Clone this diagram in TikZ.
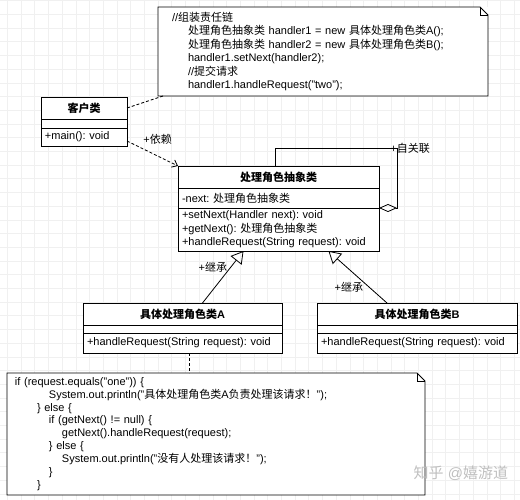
\documentclass[tikz,border=0pt]{standalone}
\usepackage{fontspec}
\setmainfont{Liberation Sans}
\newfontfamily\zhfont{Noto Sans CJK SC}
\newcommand{\zh}[1]{{\zhfont #1}}
\frenchspacing
\usetikzlibrary{arrows.meta}
\usetikzlibrary{positioning}

\begin{document}
\begin{tikzpicture}[x=1pt,y=-1pt,line width=0.8pt,
    font=\fontsize{11pt}{13.4pt}\selectfont,
    gridline/.style={line width=0.5pt,black!6},
    classhead/.style={draw,fill=white,anchor=north west,minimum width=#1,
      minimum height=22pt,inner sep=0pt,outer sep=0pt,
      font=\fontsize{11pt}{13.4pt}\selectfont\bfseries},
    classpart/.style={draw,fill=white,text width=#1,inner xsep=4pt,
      inner ysep=0pt,outer sep=0pt,align=left},
    notebox/.style={fill=white,anchor=north west,inner ysep=0pt,
      outer sep=0pt,align=left},
    noteline/.style={line width=0.8pt},
    depend/.style={dash pattern=on 3pt off 2pt,-{Straight Barb[length=5pt,width=8pt]}},
    inherit/.style={-{Triangle[open,length=12pt,width=14pt]}},
    aggregate/.style={-{Diamond[open,length=18pt,width=8pt]}},
    watermark/.style={text=black!25,font=\fontsize{15pt}{17pt}\selectfont}]
  \useasboundingbox (0,0) rectangle (520,500);
  % background grid
  \foreach \gx in {7.3,21.0,...,520} \draw[gridline] (\gx,0) -- (\gx,500);
  \foreach \gy in {0.6,14.3,...,500} \draw[gridline] (0,\gy) -- (520,\gy);

  % notes
  \node[notebox,inner xsep=14pt,text width=302pt,minimum height=89pt] (setupNote) at (158,7)
    {//\zh{组装责任链}\\
     \hspace*{16pt}\zh{处理角色抽象类} handler1 = new \zh{具体处理角色类}A();\\
     \hspace*{16pt}\zh{处理角色抽象类} handler2 = new \zh{具体处理角色类}B();\\
     \hspace*{16pt}handler1.setNext(handler2);\\
     \hspace*{16pt}//\zh{提交请求}\\
     \hspace*{16pt}handler1.handleRequest("two");};
  \draw[noteline] (setupNote.north west) -- ([xshift=-8pt]setupNote.north east)
    -- ([yshift=-8pt]setupNote.north east) -- (setupNote.south east)
    -- (setupNote.south west) -- cycle;
  \draw[noteline] ([xshift=-8pt]setupNote.north east) -- ([xshift=-8pt,yshift=-8pt]setupNote.north east)
    -- ([yshift=-8pt]setupNote.north east);

  \node[notebox,inner xsep=8pt,text width=402pt,minimum height=122pt,
    font=\fontsize{11pt}{12.9pt}\selectfont] (codeNote) at (7,373)
    {if (request.equals("one")) \{\\
     \hspace*{34pt}System.out.println("\zh{具体处理角色类}A\zh{负责处理该请求！}");\\
     \hspace*{22pt}\} else \{\\
     \hspace*{34pt}if (getNext() != null) \{\\
     \hspace*{47pt}getNext().handleRequest(request);\\
     \hspace*{34pt}\} else \{\\
     \hspace*{47pt}System.out.println("\zh{没有人处理该请求！}");\\
     \hspace*{34pt}\}\\
     \hspace*{22pt}\}};
  \draw[noteline] (codeNote.north west) -- ([xshift=-8pt]codeNote.north east)
    -- ([yshift=-8pt]codeNote.north east) -- (codeNote.south east)
    -- (codeNote.south west) -- cycle;
  \draw[noteline] ([xshift=-8pt]codeNote.north east) -- ([xshift=-8pt,yshift=-8pt]codeNote.north east)
    -- ([yshift=-8pt]codeNote.north east);
  \node[watermark,anchor=west] (mark) at (410,473) {\zh{知乎} @\zh{嬉游道}};

  % classes
  \node[classhead=86pt] (client) at (41,97) {\zh{客户类}};
  \node[classpart=78pt,minimum height=9pt,below=0pt of client] (clientAttr) {};
  \node[classpart=78pt,minimum height=18pt,below=0pt of clientAttr] (clientOps) {+main(): void};

  \node[classhead=201pt] (handler) at (178,166) {\zh{处理角色抽象类}};
  \node[classpart=193pt,minimum height=20pt,below=0pt of handler] (handlerAttr) {-next: \zh{处理角色抽象类}};
  \node[classpart=193pt,minimum height=43pt,below=0pt of handlerAttr] (handlerOps)
    {+setNext(Handler next): void\\+getNext(): \zh{处理角色抽象类}\\+handleRequest(String request): void};

  \node[classhead=199pt] (aHead) at (83,303) {\zh{具体处理角色类}A};
  \node[classpart=191pt,minimum height=8pt,below=0pt of aHead] (aAttr) {};
  \node[classpart=191pt,minimum height=20pt,below=0pt of aAttr] (aOps) {+handleRequest(String request): void};

  \node[classhead=200pt] (bHead) at (317,303) {\zh{具体处理角色类}B};
  \node[classpart=192pt,minimum height=8pt,below=0pt of bHead] (bAttr) {};
  \node[classpart=192pt,minimum height=20pt,below=0pt of bAttr] (bOps) {+handleRequest(String request): void};

  % connectors
  \draw[dash pattern=on 3pt off 2pt] (client.east) -- ([xshift=5pt]setupNote.south west);
  \draw[depend] ([yshift=-4pt]clientOps.east) -- (handler.north west)
    node[pos=0.6,above=8pt] (dependLabel) {+\zh{依赖}};
  \draw[inherit] ([xshift=20pt]aHead.north) -- ([xshift=-35pt]handlerOps.south)
    node[pos=0.69,left=0pt] (inheritA) {+\zh{继承}};
  \draw[inherit] ([xshift=-30pt]bHead.north) -- ([xshift=50pt]handlerOps.south)
    node[pos=0.31,left=2pt] (inheritB) {+\zh{继承}};
  \draw[aggregate] ([xshift=-3pt]handler.north) -- ++(0,-18) coordinate (loopTop)
    -| ([xshift=18pt]handlerAttr.south east) coordinate (loopEnd) -- (handlerAttr.south east);
  \node[anchor=west,inner sep=0pt] (selfLabel) at ([xshift=-7pt]loopEnd |- loopTop) {+\zh{自关联}};
  \draw[dash pattern=on 3pt off 2pt] ([xshift=7pt]aOps.south) -- ([xshift=7pt]aOps.south |- codeNote.north);
\end{tikzpicture}
\end{document}
